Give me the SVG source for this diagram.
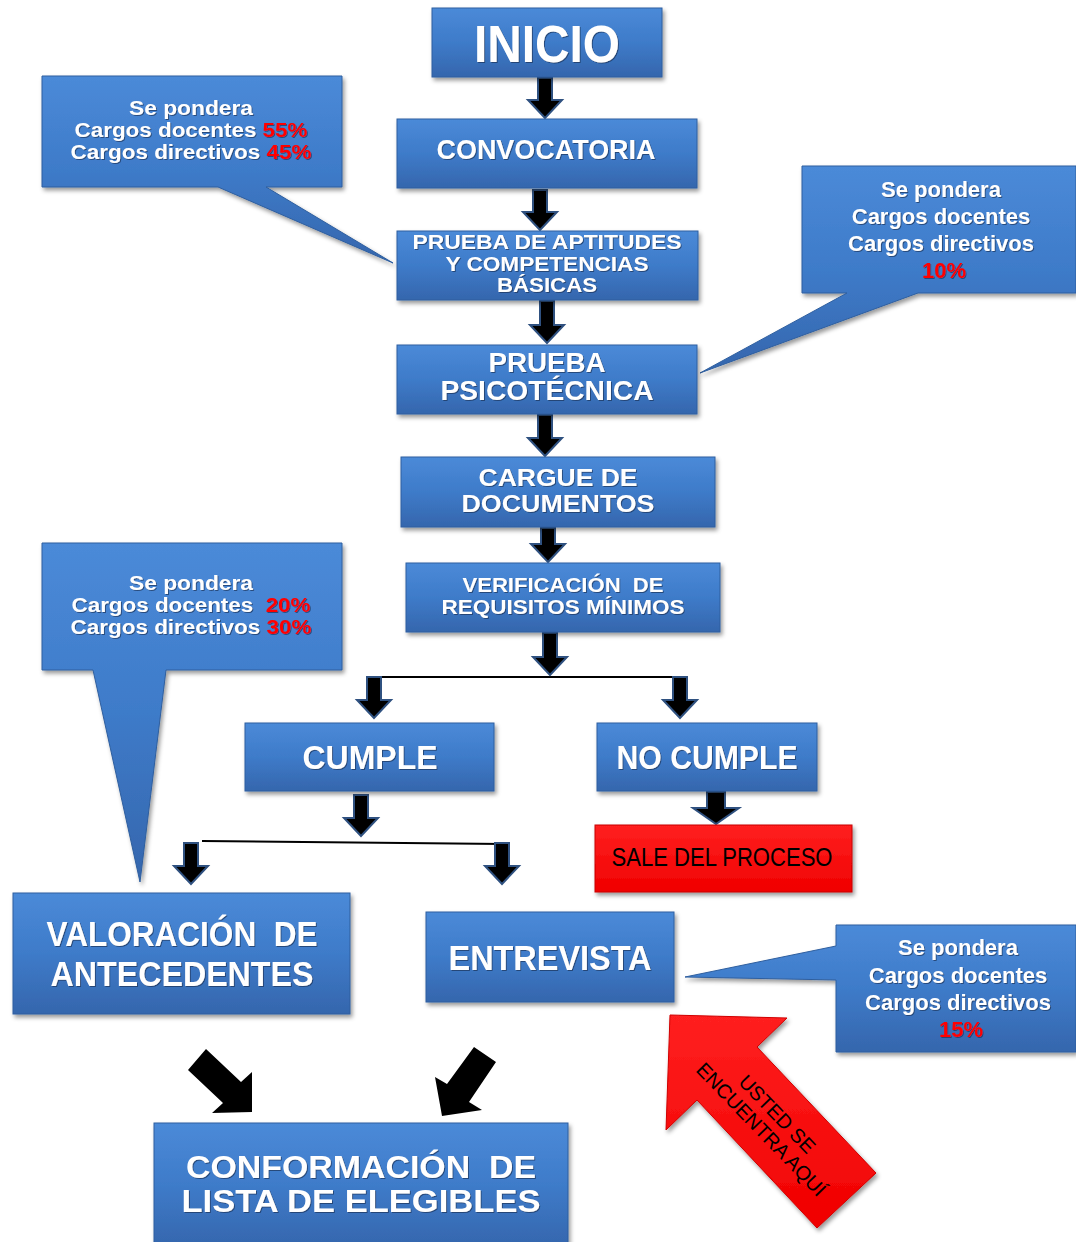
<svg xmlns="http://www.w3.org/2000/svg" width="1076" height="1242" viewBox="0 0 1076 1242">
<defs>
<linearGradient id="blue" x1="0" y1="0" x2="0" y2="1">
<stop offset="0" stop-color="#4b8ad8"/>
<stop offset="0.5" stop-color="#3e7bc9"/>
<stop offset="1" stop-color="#3566ad"/>
</linearGradient>
<linearGradient id="red" x1="0" y1="0" x2="0" y2="1">
<stop offset="0" stop-color="#ff2020"/>
<stop offset="1" stop-color="#f00000"/>
</linearGradient>
<filter id="sh" x="-10%" y="-10%" width="130%" height="130%">
<feDropShadow dx="2" dy="3" stdDeviation="2" flood-color="#000" flood-opacity="0.4"/>
</filter>
<filter id="tsh" x="-5%" y="-20%" width="110%" height="150%">
<feDropShadow dx="1" dy="1" stdDeviation="0.6" flood-color="#1a3358" flood-opacity="0.7"/>
</filter>
</defs>
<style>
.box{fill:url(#blue);stroke:#2f5f9f;stroke-width:1;filter:url(#sh)}
.t{font-family:"Liberation Sans",Arial,sans-serif;font-weight:bold;fill:#fff;text-anchor:middle;filter:url(#tsh)}
.c{font-family:"Liberation Sans",Arial,sans-serif;font-weight:bold;fill:#fff;text-anchor:middle;font-size:22px;filter:url(#tsh)}
.cs{font-size:20px}
.p{fill:#ff0000}
.arr{fill:#000;stroke:#2f5180;stroke-width:2;stroke-linejoin:miter}
.ln{fill:none;stroke:#000;stroke-width:2}
.blk{font-family:"Liberation Sans",Arial,sans-serif;fill:#000;text-anchor:middle}
</style>

<g id="callout1">
<path class="box" d="M42,76 H342 V187 H266 L393,263 L218,187 H42 Z"/>
<text class="c cs" x="191" y="115" textLength="124" lengthAdjust="spacingAndGlyphs">Se pondera</text>
<text class="c cs" x="191" y="137" textLength="233" lengthAdjust="spacingAndGlyphs">Cargos docentes <tspan class="p">55%</tspan></text>
<text class="c cs" x="191" y="159" textLength="241" lengthAdjust="spacingAndGlyphs">Cargos directivos <tspan class="p">45%</tspan></text>
</g>
<g id="callout2">
<path class="box" d="M802,166 H1076 V293 H918 L700,373 L847,293 H802 Z"/>
<text class="c" x="941" y="197">Se pondera</text>
<text class="c" x="941" y="224">Cargos docentes</text>
<text class="c" x="941" y="251">Cargos directivos</text>
<text class="c p" x="944" y="278">10%</text>
</g>
<g id="callout3">
<path class="box" d="M42,543 H342 V670 H166 L140,882 L93,670 H42 Z"/>
<text class="c cs" x="191" y="590" textLength="124" lengthAdjust="spacingAndGlyphs">Se pondera</text>
<text class="c cs" x="191" y="612" xml:space="preserve" textLength="239" lengthAdjust="spacingAndGlyphs">Cargos docentes  <tspan class="p">20%</tspan></text>
<text class="c cs" x="191" y="634" textLength="241" lengthAdjust="spacingAndGlyphs">Cargos directivos <tspan class="p">30%</tspan></text>
</g>
<g id="callout4">
<path class="box" d="M836,925 H1076 V1052 H836 V980 L685,977 L836,946 Z"/>
<text class="c" x="958" y="955">Se pondera</text>
<text class="c" x="958" y="983">Cargos docentes</text>
<text class="c" x="958" y="1010">Cargos directivos</text>
<text class="c p" x="961" y="1037">15%</text>
</g>

<g id="connectors">
<path class="ln" d="M373,677 H680"/>
<path class="ln" d="M202,841 L503,844"/>
<path class="arr" d="M538,78 H552 V100 H562 L545,118 L528,100 H538 Z"/>
<path class="arr" d="M533,190 H547 V212 H557 L540,230 L523,212 H533 Z"/>
<path class="arr" d="M540,301 H554 V325 H564 L547,343 L530,325 H540 Z"/>
<path class="arr" d="M538,415 H552 V438 H562 L545,456 L528,438 H538 Z"/>
<path class="arr" d="M541,528 H555 V544 H565 L548,562 L531,544 H541 Z"/>
<path class="arr" d="M543,633 H557 V657 H567 L550,675 L533,657 H543 Z"/>
<path class="arr" d="M367,677 H381 V700 H391 L374,718 L357,700 H367 Z"/>
<path class="arr" d="M673,677 H687 V700 H697 L680,718 L663,700 H673 Z"/>
<path class="arr" d="M354,795 H368 V818 H378 L361,836 L344,818 H354 Z"/>
<path class="arr" d="M707,792 H725 V808 H739 L716,824 L693,808 H707 Z"/>
<path class="arr" d="M184,843 H198 V866 H208 L191,884 L174,866 H184 Z"/>
<path class="arr" d="M495,843 H509 V866 H519 L502,884 L485,866 H495 Z"/>
<path fill="#000" d="M188,1070 L206,1049 L241,1082 L252,1072 L252,1112 L212,1113 L223,1103 Z"/>
<path fill="#000" d="M474,1047 L496,1062 L469,1102 L482,1110 L442,1116 L435,1077 L447,1084 Z"/>
</g>

<g id="inicio">
<rect class="box" x="432" y="8" width="230" height="69"/>
<text class="t" x="547" y="62" font-size="52" textLength="146" lengthAdjust="spacingAndGlyphs">INICIO</text>
</g>
<g id="convocatoria">
<rect class="box" x="397" y="119" width="300" height="69"/>
<text class="t" x="546" y="159" font-size="27" textLength="219" lengthAdjust="spacingAndGlyphs">CONVOCATORIA</text>
</g>
<g id="aptitudes">
<rect class="box" x="397" y="231" width="301" height="69"/>
<text class="t" x="547" y="249" font-size="21" textLength="269" lengthAdjust="spacingAndGlyphs">PRUEBA DE APTITUDES</text>
<text class="t" x="547" y="271" font-size="21" textLength="203" lengthAdjust="spacingAndGlyphs">Y COMPETENCIAS</text>
<text class="t" x="547" y="292" font-size="21" textLength="100" lengthAdjust="spacingAndGlyphs">BÁSICAS</text>
</g>
<g id="psicotecnica">
<rect class="box" x="397" y="345" width="300" height="69"/>
<text class="t" x="547" y="372" font-size="27" textLength="117" lengthAdjust="spacingAndGlyphs">PRUEBA</text>
<text class="t" x="547" y="400" font-size="27" textLength="213" lengthAdjust="spacingAndGlyphs">PSICOTÉCNICA</text>
</g>
<g id="cargue">
<rect class="box" x="401" y="457" width="314" height="70"/>
<text class="t" x="558" y="486" font-size="24" textLength="159" lengthAdjust="spacingAndGlyphs">CARGUE DE</text>
<text class="t" x="558" y="512" font-size="24" textLength="193" lengthAdjust="spacingAndGlyphs">DOCUMENTOS</text>
</g>
<g id="verificacion">
<rect class="box" x="406" y="563" width="314" height="69"/>
<text class="t" x="563" y="592" font-size="21" textLength="201" lengthAdjust="spacingAndGlyphs" xml:space="preserve">VERIFICACIÓN  DE</text>
<text class="t" x="563" y="614" font-size="21" textLength="243" lengthAdjust="spacingAndGlyphs">REQUISITOS MÍNIMOS</text>
</g>
<g id="cumple">
<rect class="box" x="245" y="723" width="249" height="68"/>
<text class="t" x="370" y="769" font-size="33" textLength="135" lengthAdjust="spacingAndGlyphs">CUMPLE</text>
</g>
<g id="nocumple">
<rect class="box" x="597" y="723" width="220" height="68"/>
<text class="t" x="707" y="769" font-size="33" textLength="181" lengthAdjust="spacingAndGlyphs">NO CUMPLE</text>
</g>
<g id="sale">
<rect x="595" y="825" width="257" height="67" fill="url(#red)" stroke="#c80000" stroke-width="1" filter="url(#sh)"/>
<text class="blk" x="722" y="866" font-size="25" textLength="221" lengthAdjust="spacingAndGlyphs">SALE DEL PROCESO</text>
</g>
<g id="valoracion">
<rect class="box" x="13" y="893" width="337" height="121"/>
<text class="t" x="182" y="946" font-size="35" textLength="271" lengthAdjust="spacingAndGlyphs" xml:space="preserve">VALORACIÓN  DE</text>
<text class="t" x="182" y="986" font-size="35" textLength="263" lengthAdjust="spacingAndGlyphs">ANTECEDENTES</text>
</g>
<g id="entrevista">
<rect class="box" x="426" y="912" width="248" height="90"/>
<text class="t" x="550" y="970" font-size="35" textLength="203" lengthAdjust="spacingAndGlyphs">ENTREVISTA</text>
</g>
<g id="conformacion">
<rect class="box" x="154" y="1123" width="414" height="125"/>
<text class="t" x="361" y="1178" font-size="31" textLength="350" lengthAdjust="spacingAndGlyphs" xml:space="preserve">CONFORMACIÓN  DE</text>
<text class="t" x="361" y="1212" font-size="31" textLength="359" lengthAdjust="spacingAndGlyphs">LISTA DE ELEGIBLES</text>
</g>
<g id="usted">
<path d="M670,1015 L787,1018 L757,1047 L876,1173 L817,1228 L697,1100 L666,1130 Z" fill="url(#red)" stroke="#d00000" stroke-width="1" filter="url(#sh)"/>
<g transform="translate(770,1121) rotate(46)">
<text class="blk" x="0" y="-3" font-size="20">USTED SE</text>
<text class="blk" x="0" y="19" font-size="20">ENCUENTRA AQUÍ</text>
</g>
</g>
</svg>
